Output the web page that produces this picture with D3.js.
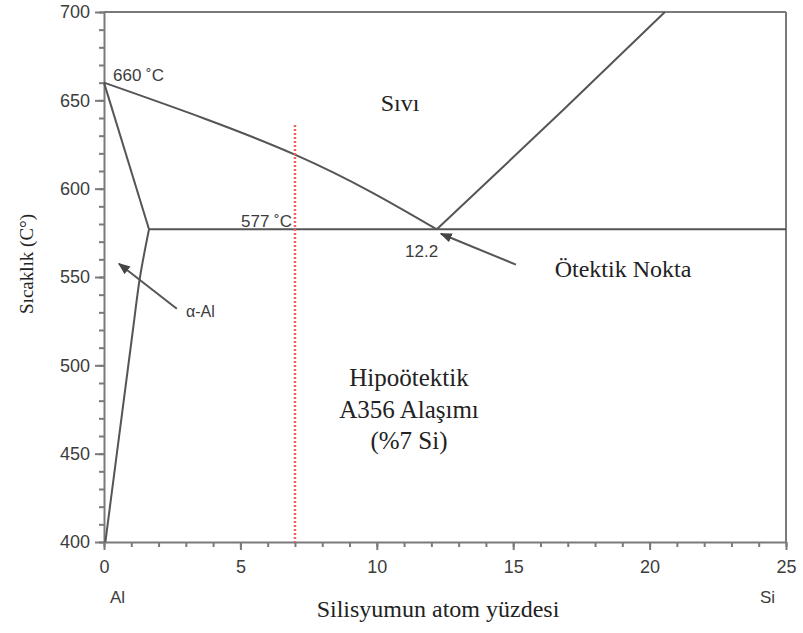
<!DOCTYPE html>
<html>
<head>
<meta charset="utf-8">
<script src="https://cdnjs.cloudflare.com/ajax/libs/d3/7.8.5/d3.min.js"></script>
<style>
body { margin: 0; background: #fff; }
</style>
</head>
<body>
<div id="chart-area"></div>
<script>
// phase boundary data (Si %, temperature)
let liquidusLeft = [[0, 660], [7.04, 619], [12.2, 577]];
let liquidusRight = [[12.2, 577], [14.4, 609], [16.83, 644.5], [20.56, 700]];
let solidus = [[0, 660], [1.65, 577]];
let solvus = [[1.65, 577], [1.32, 550], [1.06, 520], [0.05, 400]];
let eutectic = [[1.65, 577], [25, 577]];
let alloyLine = [[7, 636], [7, 400]];

let xTicks = [0, 5, 10, 15, 20, 25];
let yTicks = [400, 450, 500, 550, 600, 650, 700];

let W = 803, H = 633;
let margin = { left: 104, top: 12, right: 17, bottom: 91 };
let w = W - margin.left - margin.right;
let h = H - margin.top - margin.bottom;

let svg = d3.select("#chart-area")
    .append("svg")
    .attr("width", W)
    .attr("height", H);

let g = svg.append("g")
    .attr("transform", "translate(" + margin.left + "," + margin.top + ")");

let x = d3.scaleLinear().domain([0, 25]).range([0, w]);
let y = d3.scaleLinear().domain([400, 700]).range([h, 0]);

let axisColor = "#7a7a7a";
let labelColor = "#3c3c3c";

// minor ticks
g.append("g")
    .attr("transform", "translate(0," + h + ")")
    .call(d3.axisBottom(x).ticks(25).tickSize(5).tickFormat(""))
    .call(a => a.select(".domain").remove());
g.append("g")
    .call(d3.axisLeft(y).ticks(30).tickSize(5).tickFormat(""))
    .call(a => a.select(".domain").remove());

// major ticks
g.append("g")
    .attr("transform", "translate(0," + h + ")")
    .call(d3.axisBottom(x).tickValues(xTicks).tickSize(8).tickSizeOuter(0).tickPadding(10));
g.append("g")
    .call(d3.axisLeft(y).tickValues(yTicks).tickSize(9).tickSizeOuter(0).tickPadding(5));

g.selectAll(".tick line").attr("stroke", axisColor).attr("stroke-width", 2);
g.selectAll(".domain").attr("stroke", axisColor).attr("stroke-width", 2);
g.selectAll(".tick text")
    .attr("fill", labelColor)
    .style("font-family", "Liberation Sans, Arial, sans-serif")
    .style("font-size", "18px");

// frame top and right
g.append("line").attr("x1", 0).attr("x2", w).attr("y1", 0).attr("y2", 0)
    .attr("stroke", axisColor).attr("stroke-width", 2);
g.append("line").attr("x1", w).attr("x2", w).attr("y1", 0).attr("y2", h)
    .attr("stroke", axisColor).attr("stroke-width", 2);

let line = d3.line().x(d => x(d[0])).y(d => y(d[1]));
let curve = d3.line().x(d => x(d[0])).y(d => y(d[1])).curve(d3.curveNatural);

g.append("path").datum(liquidusLeft).attr("d", curve)
    .attr("fill", "none").attr("stroke", "#555").attr("stroke-width", 2);
[liquidusRight, solidus, eutectic].forEach(function (d) {
    g.append("path").datum(d).attr("d", line)
        .attr("fill", "none").attr("stroke", "#555").attr("stroke-width", 2);
});
g.append("path").datum(solvus).attr("d", d3.line().x(d => x(d[0])).y(d => y(d[1])).curve(d3.curveMonotoneY))
    .attr("fill", "none").attr("stroke", "#555").attr("stroke-width", 2);

g.append("path").datum(alloyLine).attr("d", line)
    .attr("fill", "none").attr("stroke", "#f06060").attr("stroke-width", 2.5)
    .attr("stroke-dasharray", "2,2");

// arrows
svg.append("defs").append("marker")
    .attr("id", "arrow")
    .attr("viewBox", "0 0 10 10")
    .attr("refX", 9).attr("refY", 5)
    .attr("markerWidth", 6).attr("markerHeight", 6)
    .attr("markerUnits", "strokeWidth")
    .attr("orient", "auto")
    .append("path").attr("d", "M0,1 L10,5 L0,9 z").attr("fill", "#444");

let arrows = [
    [[15.1, 557], [12.35, 574.5]],
    [[2.67, 532], [0.55, 557.5]]
];
arrows.forEach(function (a) {
    g.append("line")
        .attr("x1", x(a[0][0])).attr("y1", y(a[0][1]))
        .attr("x2", x(a[1][0])).attr("y2", y(a[1][1]))
        .attr("stroke", "#555").attr("stroke-width", 2)
        .attr("marker-end", "url(#arrow)");
});

// labels
let sans = "Liberation Sans, Arial, sans-serif";
let serif = "Liberation Serif, Times New Roman, serif";

function label(txt, px, py, size, family, anchor) {
    svg.append("text")
        .attr("x", px).attr("y", py)
        .attr("text-anchor", anchor || "start")
        .attr("fill", family === sans ? labelColor : "#222")
        .style("font-family", family)
        .style("font-size", size + "px")
        .text(txt);
}

label("660 ˚C", 113, 81, 17, sans);
label("577 ˚C", 292, 227, 17, sans, "end");
label("12.2", 405, 257, 17, sans);
label("α-Al", 186, 317, 16, sans);
label("Al", 110, 603, 17, sans);
label("Si", 760, 603, 17, sans);

label("Sıvı", 400, 111, 24, serif, "middle");
label("Ötektik Nokta", 623, 277, 24, serif, "middle");
label("Hipoötektik", 409, 386, 25, serif, "middle");
label("A356 Alaşımı", 409, 418, 25, serif, "middle");
label("(%7 Si)", 409, 449, 25, serif, "middle");

label("Silisyumun atom yüzdesi", 438, 617, 24, serif, "middle");

svg.append("text")
    .attr("transform", "translate(33,264) rotate(-90)")
    .attr("text-anchor", "middle")
    .attr("fill", "#222")
    .style("font-family", serif)
    .style("font-size", "19px")
    .text("Sıcaklık (C°)");
</script>
</body>
</html>
